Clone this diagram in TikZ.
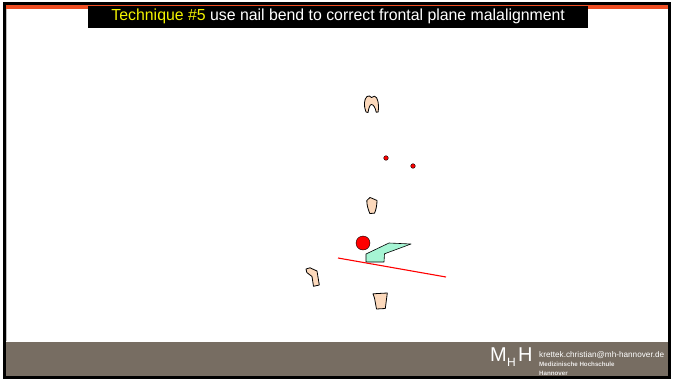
\documentclass[tikz,border=0pt]{standalone}
\usepackage{fontspec}
\setmainfont{Liberation Sans}
\begin{document}
\begin{tikzpicture}[x=1pt,y=-1pt,
  tooth/.style={draw=black,line width=0.8pt,fill=toothfill,line join=round},
  dotmark/.style={draw=black,line width=0.4pt,fill=red}]
\definecolor{toothfill}{HTML}{FCD9BC}
\definecolor{barorange}{HTML}{F04E23}
\definecolor{footgray}{HTML}{776D62}
\definecolor{nailgreen}{HTML}{A6F5D4}
\definecolor{titleyellow}{HTML}{F2F200}
\useasboundingbox (0,0) rectangle (673,381);
\fill[white] (0,0) rectangle (673,381);
% slide frame
\draw[black,line width=2.6pt] (4.5,3.5) rectangle (669.5,377.5);
\draw[gray!50,line width=0.6pt] (6.5,9) -- (6.5,341);
% top accent bar and footer band
\fill[barorange] (5.8,5) rectangle (668.2,8.5);
\fill[footgray] (5.8,342) rectangle (668.2,376.2);
% title
\node[fill=black,minimum width=500pt,minimum height=22pt,inner sep=0pt,anchor=north west] (title) at (88,6) {};
\node[font=\fontsize{16}{18}\selectfont,text=white,xscale=0.99] (titletext) at ([yshift=0.5pt]title.center)
  {\textcolor{titleyellow}{Technique \#5} use nail bend to correct frontal plane malalignment};
% upper molar
\path[tooth] (366,112) .. controls (363.5,106) and (364,99) .. (367,96.5)
  -- (369.5,96) -- (371.5,97.5) -- (374.5,96.2)
  .. controls (378,97) and (379,104) .. (378.2,112)
  -- (376.2,112.2) .. controls (375.5,108) and (373.5,104.5) .. (371.5,104.5)
  .. controls (369.8,104.5) and (368.8,108) .. (368,112.5) -- cycle;
% reference dots
\fill[dotmark] (386,158) circle (2.3);
\fill[dotmark] (413,166) circle (2.3);
% middle tooth
\path[tooth] (366.8,200.5) -- (370,197.5) -- (372.5,198.5) -- (377,200.5)
  .. controls (377,205) and (376,210) .. (374.5,213.2)
  -- (369.8,213.5) .. controls (368,209) and (366.8,205) .. cycle;
% red ball
\fill[dotmark] (363,243) circle (7);
% nail plate
\path[draw=black,line width=0.6pt,fill=nailgreen,line join=round]
  (366,254) -- (389,243) -- (411,244) -- (384.5,253.8) -- (384,262) -- (366,262) -- cycle;
% frontal plane line
\coordinate (lineA) at (338,258);
\coordinate (lineB) at (446,277);
\draw[red,line width=1.1pt] (lineA) -- (lineB);
% left tooth
\path[tooth] (306,269) -- (310,267.8) -- (317,271) -- (319.3,285) -- (313.5,286.3)
  -- (312,276.5) -- (306.8,272.5) -- cycle;
% lower tooth
\path[tooth] (373,293.8) -- (387.3,293) -- (385.3,308.5) -- (376.5,309) -- (374.5,298) -- cycle;
% footer logo and contact
\node[text=white,font=\fontsize{20}{20}\selectfont,inner sep=0pt,anchor=base west] (logoM) at (490,361) {M};
\node[text=white,font=\fontsize{12}{12}\selectfont,inner sep=0pt,anchor=base west] (logoH1) at (507,366) {H};
\node[text=white,font=\fontsize{20}{20}\selectfont,inner sep=0pt,anchor=base west] (logoH2) at (518,361) {H};
\node[text=white,font=\fontsize{8.2}{9}\selectfont,inner sep=0pt,anchor=base west] (mail) at (539,357) {krettek.christian@mh-hannover.de};
\node[text=white!85!footgray,font=\bfseries\fontsize{6.2}{7}\selectfont,inner sep=0pt,anchor=base west] (mhh1) at (539,366) {Medizinische Hochschule};
\begin{scope}
\clip (5.8,342) rectangle (668.2,376.2);
\node[text=white!85!footgray,font=\bfseries\fontsize{6.2}{7}\selectfont,inner sep=0pt,anchor=base west] (mhh2) at (539,375) {Hannover};
\end{scope}
\end{tikzpicture}
\end{document}
